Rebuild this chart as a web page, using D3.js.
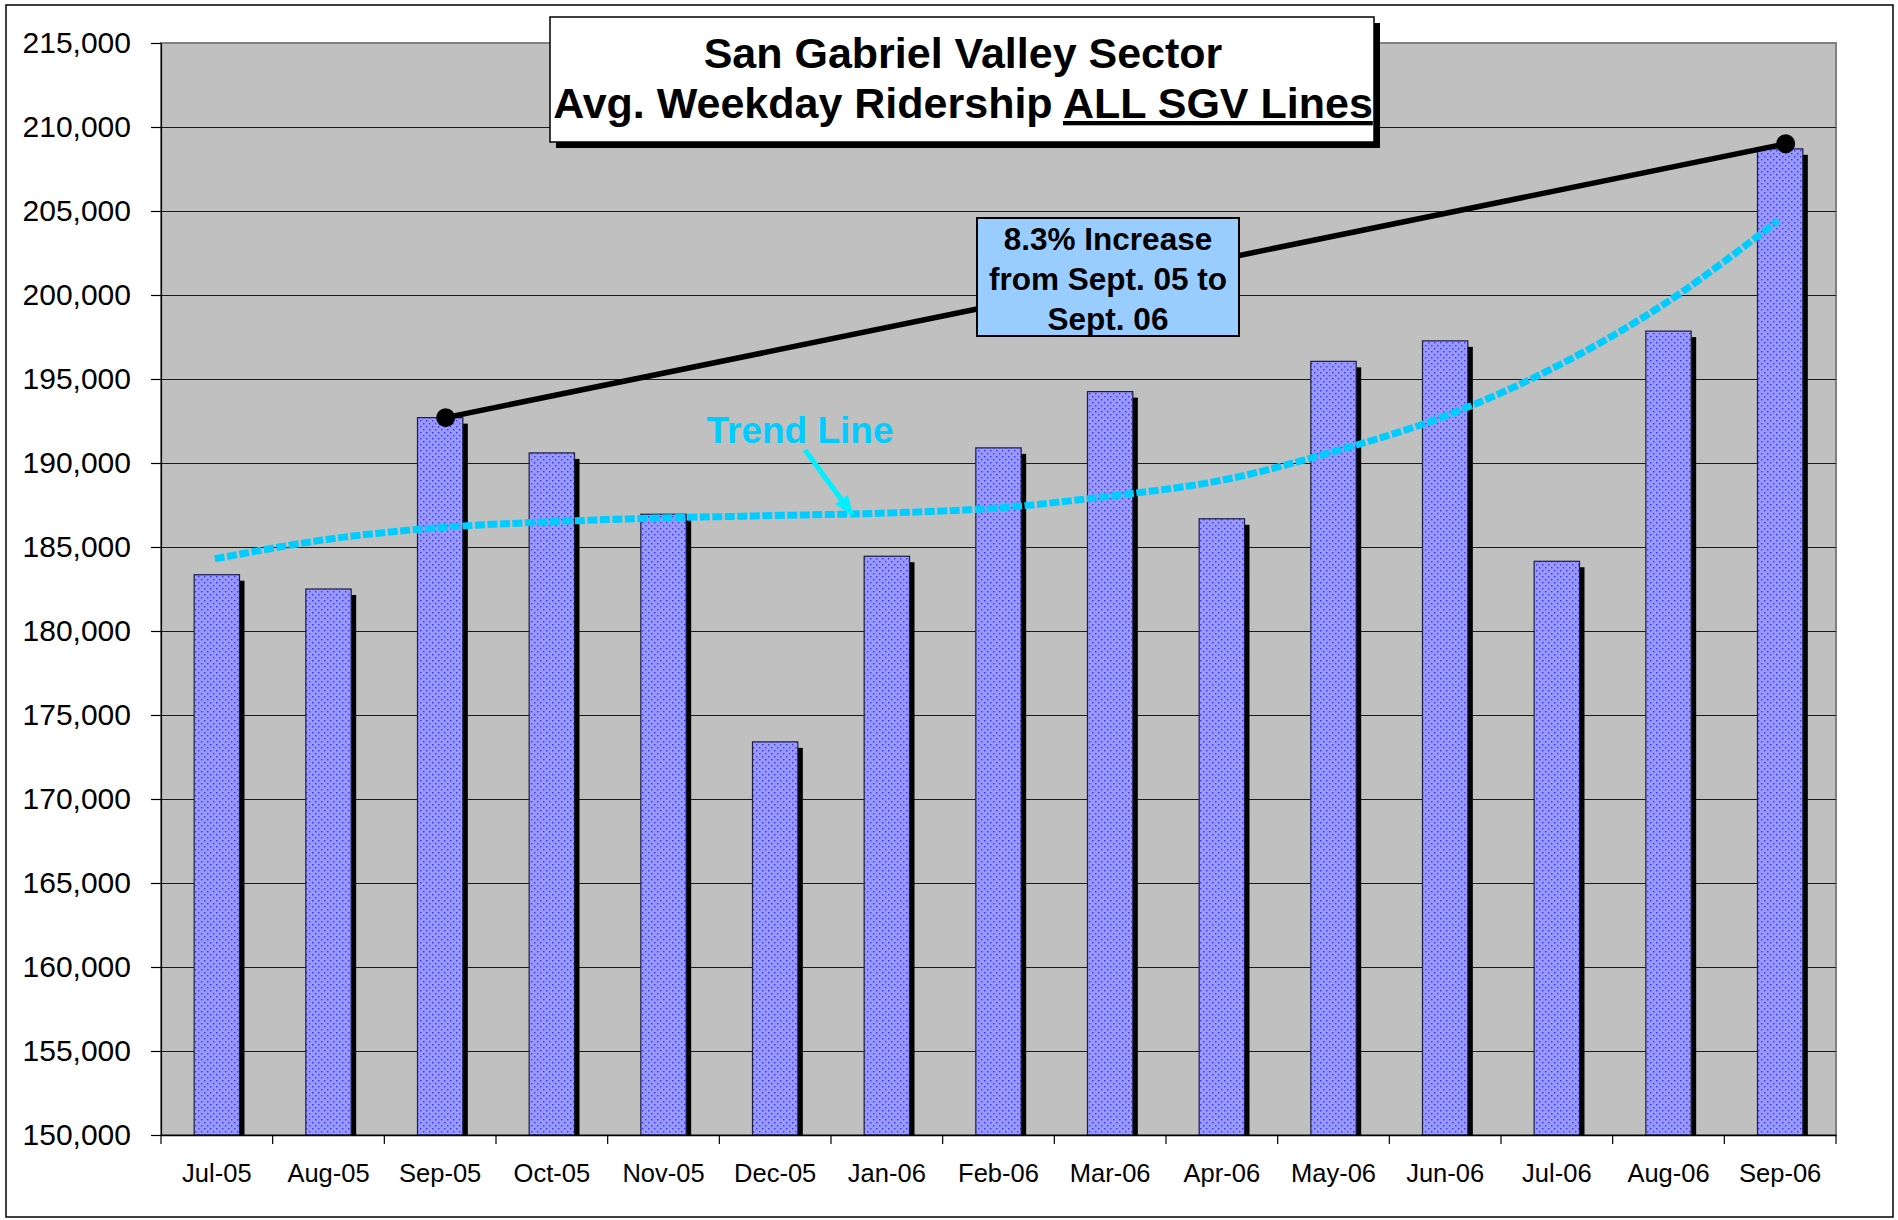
<!DOCTYPE html>
<html>
<head>
<meta charset="utf-8">
<script src="https://cdn.jsdelivr.net/npm/d3@7"></script>
<style>
  body { margin: 0; background: #fff; }
  svg { display: block; }
  .y-axis text { font-family: "Liberation Sans", Arial, sans-serif; font-size: 30px; fill: #000; }
  .x-axis text { font-family: "Liberation Sans", Arial, sans-serif; font-size: 25.5px; fill: #000; }
</style>
</head>
<body>
<div id="chart"></div>
<script>
// chart values
var months = ["Jul-05", "Aug-05", "Sep-05", "Oct-05", "Nov-05", "Dec-05", "Jan-06", "Feb-06",
  "Mar-06", "Apr-06", "May-06", "Jun-06", "Jul-06", "Aug-06", "Sep-06"];
var ridership = [183350, 182500, 192700, 190600, 186950, 173400, 184450, 190900,
  194250, 186680, 196050, 197270, 184150, 197850, 208700];
// polynomial trend line as drawn in the picture
var trendValues = [184300, 185450, 186150, 186500, 186730, 186870, 187020, 187320,
  188020, 188950, 190640, 192750, 195700, 199550, 204430];
var yTickValues = [150000, 155000, 160000, 165000, 170000, 175000, 180000, 185000,
  190000, 195000, 200000, 205000, 210000, 215000];
// Sept 05 -> Sept 06 increase line
var increaseMonths = ["Sep-05", "Sep-06"];
var increaseValues = [192700, 209000];
var titleLine1 = "San Gabriel Valley Sector";
var titleLine2a = "Avg. Weekday Ridership ";
var titleLine2b = "ALL SGV Lines";
var noteLines = ["8.3% Increase", "from Sept. 05 to", "Sept. 06"];
var trendLabel = "Trend Line";

var svgWidth = 1898;
var svgHeight = 1220;
var plot = { left: 161, right: 1836, top: 43, bottom: 1135 };
var font = '"Liberation Sans", Arial, sans-serif';

var svg = d3.select("#chart")
  .append("svg")
  .attr("width", svgWidth)
  .attr("height", svgHeight);

// outer chart frame
svg.append("rect")
  .attr("x", 6).attr("y", 5)
  .attr("width", 1887).attr("height", 1212)
  .attr("fill", "#fff")
  .attr("stroke", "#000")
  .attr("stroke-width", 1.5);

// dotted fill used by the bars
var defs = svg.append("defs");
var pat = defs.append("pattern")
  .attr("id", "dots")
  .attr("width", 6).attr("height", 6)
  .attr("patternUnits", "userSpaceOnUse");
pat.append("rect").attr("width", 6).attr("height", 6).attr("fill", "#9999ff");
pat.append("rect").attr("x", 0).attr("y", 0).attr("width", 1.4).attr("height", 1.4).attr("fill", "#3535ff");
pat.append("rect").attr("x", 3).attr("y", 3).attr("width", 1.4).attr("height", 1.4).attr("fill", "#3535ff");

defs.append("marker")
  .attr("id", "arrowHead")
  .attr("markerUnits", "userSpaceOnUse")
  .attr("viewBox", "0 0 20 20")
  .attr("refX", 18).attr("refY", 10)
  .attr("markerWidth", 20).attr("markerHeight", 20)
  .attr("orient", "auto")
  .append("path")
  .attr("d", "M0,2 L20,10 L0,18 Z")
  .attr("fill", "#00f0ff");

// scales
var x = d3.scaleBand()
  .domain(months)
  .range([plot.left, plot.right])
  .padding(0);

var y = d3.scaleLinear()
  .domain([150000, 215000])
  .range([plot.bottom, plot.top]);

var barWidth = x.bandwidth() * 0.406;
var cx = function(m) { return x(m) + x.bandwidth() / 2; };

// plot area
svg.append("rect")
  .attr("x", plot.left).attr("y", plot.top)
  .attr("width", plot.right - plot.left)
  .attr("height", plot.bottom - plot.top)
  .attr("fill", "#c0c0c0")
  .attr("stroke", "#808080")
  .attr("stroke-width", 2);

// gridlines
svg.append("g")
  .selectAll("line")
  .data(yTickValues.filter(function(d) { return d > 150000 && d < 215000; }))
  .enter()
  .append("line")
  .attr("x1", plot.left).attr("x2", plot.right)
  .attr("y1", function(d) { return Math.round(y(d)) + 0.5; })
  .attr("y2", function(d) { return Math.round(y(d)) + 0.5; })
  .attr("stroke", "#1a1a1a")
  .attr("stroke-width", 1);

var data = months.map(function(m, i) { return { month: m, value: ridership[i], trend: trendValues[i] }; });

// bar shadows then bars
svg.append("g")
  .selectAll("rect")
  .data(data)
  .enter()
  .append("rect")
  .attr("x", function(d) { return cx(d.month) - barWidth / 2 + 5; })
  .attr("y", function(d) { return y(d.value) + 6; })
  .attr("width", barWidth)
  .attr("height", function(d) { return plot.bottom - y(d.value) - 6; })
  .attr("fill", "#000");

svg.append("g")
  .selectAll("rect")
  .data(data)
  .enter()
  .append("rect")
  .attr("x", function(d) { return cx(d.month) - barWidth / 2; })
  .attr("y", function(d) { return y(d.value); })
  .attr("width", barWidth)
  .attr("height", function(d) { return plot.bottom - y(d.value); })
  .attr("fill", "url(#dots)")
  .attr("stroke", "#1c1c40")
  .attr("stroke-width", 1.2);

// axes
var yAxis = d3.axisLeft(y)
  .tickValues(yTickValues)
  .tickFormat(d3.format(","))
  .tickSize(10)
  .tickSizeOuter(0)
  .tickPadding(20);

svg.append("g")
  .attr("class", "y-axis")
  .attr("transform", "translate(" + plot.left + ",0)")
  .call(yAxis)
  .call(function(g) { g.selectAll("line, path").attr("stroke", "#000").attr("stroke-width", 1.2); });

var xAxis = d3.axisBottom(x)
  .tickSize(0)
  .tickPadding(29);

svg.append("g")
  .attr("class", "x-axis")
  .attr("transform", "translate(0," + plot.bottom + ")")
  .call(xAxis)
  .call(function(g) { g.select(".domain").attr("stroke", "#000").attr("stroke-width", 1.5); });

// category boundary ticks
svg.append("g")
  .selectAll("line")
  .data(months.concat(["end"]))
  .enter()
  .append("line")
  .attr("x1", function(d) { return d === "end" ? plot.right : x(d); })
  .attr("x2", function(d) { return d === "end" ? plot.right : x(d); })
  .attr("y1", plot.bottom)
  .attr("y2", plot.bottom + 9)
  .attr("stroke", "#000")
  .attr("stroke-width", 1.2);

// trend line
var trendLine = d3.line()
  .x(function(d) { return cx(d.month) - 2; })
  .y(function(d) { return y(d.trend); })
  .curve(d3.curveCatmullRom);

svg.append("path")
  .datum(data)
  .attr("d", trendLine)
  .attr("fill", "none")
  .attr("stroke", "#00ccff")
  .attr("stroke-width", 7)
  .attr("stroke-dasharray", "10 2.5");

// increase line with end dots
var incData = increaseMonths.map(function(m, i) { return { month: m, value: increaseValues[i] }; });

svg.append("path")
  .datum(incData)
  .attr("d", d3.line()
    .x(function(d) { return cx(d.month) + 5.5; })
    .y(function(d) { return y(d.value); }))
  .attr("stroke", "#000")
  .attr("stroke-width", 5.5)
  .attr("fill", "none");

svg.append("g")
  .selectAll("circle")
  .data(incData)
  .enter()
  .append("circle")
  .attr("cx", function(d) { return cx(d.month) + 5.5; })
  .attr("cy", function(d) { return y(d.value); })
  .attr("r", 9.5)
  .attr("fill", "#000");

// note box
var note = svg.append("g");
note.append("rect")
  .attr("x", 977).attr("y", 218)
  .attr("width", 262).attr("height", 118)
  .attr("fill", "#99ccff")
  .attr("stroke", "#000")
  .attr("stroke-width", 2);

note.selectAll("text")
  .data(noteLines)
  .enter()
  .append("text")
  .attr("x", 1108)
  .attr("y", function(d, i) { return 250 + i * 40; })
  .attr("text-anchor", "middle")
  .attr("font-family", font)
  .attr("font-weight", "bold")
  .attr("font-size", 31.5)
  .text(function(d) { return d; });

// trend label + arrow
svg.append("text")
  .attr("x", 800)
  .attr("y", 443)
  .attr("text-anchor", "middle")
  .attr("font-family", font)
  .attr("font-weight", "bold")
  .attr("font-size", 37)
  .attr("fill", "#00ccff")
  .text(trendLabel);

svg.append("line")
  .attr("x1", 805).attr("y1", 450)
  .attr("x2", 852).attr("y2", 514)
  .attr("stroke", "#00f0ff")
  .attr("stroke-width", 5)
  .attr("marker-end", "url(#arrowHead)");

// title box
var title = svg.append("g");
title.append("rect")
  .attr("x", 556).attr("y", 23)
  .attr("width", 824).attr("height", 125)
  .attr("fill", "#000");
title.append("rect")
  .attr("x", 550).attr("y", 17)
  .attr("width", 824).attr("height", 125)
  .attr("fill", "#fff")
  .attr("stroke", "#000")
  .attr("stroke-width", 1.5);

title.append("text")
  .attr("x", 963)
  .attr("y", 68)
  .attr("text-anchor", "middle")
  .attr("font-family", font)
  .attr("font-weight", "bold")
  .attr("font-size", 43)
  .text(titleLine1);

var t2 = title.append("text")
  .attr("x", 963)
  .attr("y", 118)
  .attr("text-anchor", "middle")
  .attr("font-family", font)
  .attr("font-weight", "bold")
  .attr("font-size", 43);
t2.append("tspan").text(titleLine2a);
t2.append("tspan")
  .style("text-decoration", "underline")
  .text(titleLine2b);
</script>
</body>
</html>
